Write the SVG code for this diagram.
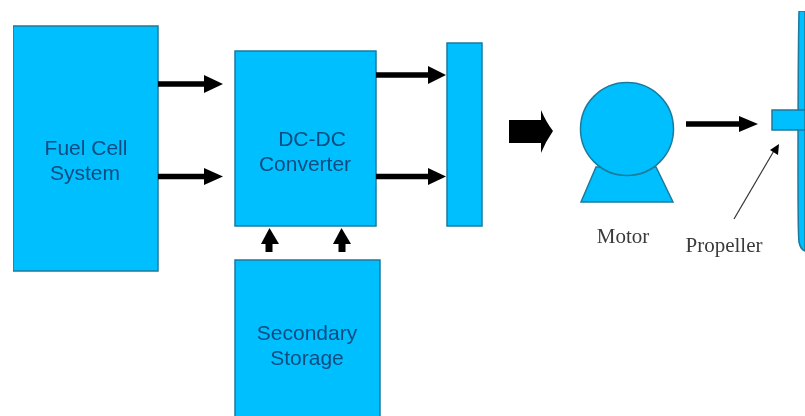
<svg xmlns="http://www.w3.org/2000/svg" width="805" height="416" viewBox="0 0 805 416">
<style>
.b{fill:#00bfff;stroke:#1b7a9c;stroke-width:1.5}
.t{font-family:"Liberation Sans",Arial,sans-serif;font-size:21px;fill:#0b4c80;text-anchor:middle}
.l{font-family:"Liberation Serif","Times New Roman",serif;font-size:21px;fill:#3a3a3a;text-anchor:middle}
.c{stroke:#000;stroke-width:5.500;fill:none}
.h{fill:#000;stroke:none}
</style>
<defs><filter id="soft" x="0" y="0" width="100%" height="100%"><feGaussianBlur stdDeviation="0.6"/></filter></defs>
<rect width="805" height="416" fill="#fff"/>
<g filter="url(#soft)">
<g id="fuel-cell"><rect class="b" x="13" y="26" width="145" height="245"/><text class="t" x="86" y="155">Fuel Cell</text><text class="t" x="85" y="180">System</text></g>
<g id="converter"><rect class="b" x="235" y="51" width="141" height="175"/><text class="t" x="312" y="146">DC-DC</text><text class="t" x="305" y="171">Converter</text></g>
<g id="storage"><rect class="b" x="235" y="260" width="145" height="157"/><text class="t" x="307" y="340">Secondary</text><text class="t" x="307" y="365">Storage</text></g>
<g id="bus"><rect class="b" x="447" y="43" width="35" height="183"/></g>
<g id="motor"><path class="b" d="M581 202L596 167H656L673 202Z"/><circle class="b" cx="627" cy="129" r="46.500"/><text class="l" x="623" y="243">Motor</text></g>
<g id="propeller"><path class="b" d="M805 11H799C798 60 798 120 798 170C798 210 798 235 799 242C800 247 802 250 805 251Z"/><rect class="b" x="772" y="110" width="33" height="20"/><text class="l" x="724" y="252">Propeller</text></g>
<g id="connectors">
<path class="c" d="M158 84H206M158 176.500H206M376 75H430M376 176.500H430M686 124H741"/>
<path class="c" style="stroke-width:7" d="M269 252V243M342 252V243"/>
<path class="h" d="M204 75L223 84L204 93ZM204 168L223 176.500L204 185ZM428 66L446 75L428 84ZM428 168L446 176.500L428 185ZM739 116L758 124L739 132ZM261 244L269.500 228L279 244ZM333 244L341.500 228L351 244Z"/>
<path class="h" d="M509 120H541V110Q546 122 553 131Q546 141 541 153V143H509Z"/>
<path d="M734 219L775 149" stroke="#333" stroke-width="1.200" fill="none"/>
<path class="h" d="M770 150L779 144L778 155Z"/>
</g>
</g>
</svg>
